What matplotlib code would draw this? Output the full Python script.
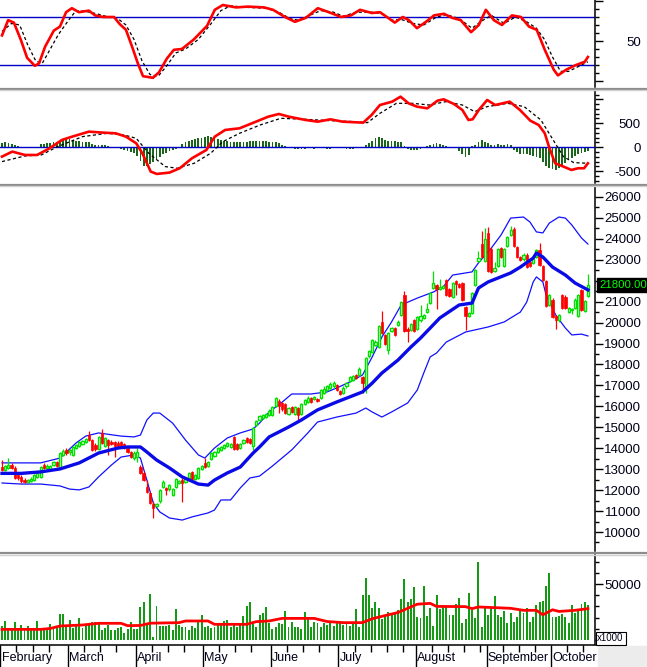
import numpy as np
import matplotlib
matplotlib.use("Agg")
import matplotlib.pyplot as plt
import matplotlib.transforms as mtrans
from matplotlib.lines import Line2D
from matplotlib.patches import Rectangle
from matplotlib.ticker import MultipleLocator

plt.rcParams['font.family'] = ['Liberation Sans', 'DejaVu Sans']

# ---- daily candles, Feb .. Oct (one row per month) ----
opens = [
    13100, 12950, 13050, 13200, 13050, 12700, 12650, 12500, 12400, 12450, 12500, 12650, 12650, 13200, 13050, 13000, 13200, 13350, 13050, 13700, 13900,
    13800, 13700, 14000, 14100, 14200, 14300, 14650, 14400, 14150, 13950, 14750, 14100, 14400, 14300, 14300, 14250, 14300, 14200, 14000, 13800, 13550,
    13600, 13100, 12800, 12150, 11850, 11350, 11250, 11500, 12150, 12100, 12050, 11750, 12150, 12350, 12500, 12400, 12600, 12850, 12550, 12600, 13000,
    13300, 13150, 13500, 13650, 13800, 13900, 14000, 14100, 14050, 14550, 14200, 14000, 14250, 14500, 14450, 14100, 15100, 15350, 15450, 15500, 15600,
    15600, 16000, 16250, 16150, 16100, 15650, 15950, 15650, 15900, 15650, 16100, 16200, 16400, 16350, 16350, 16400, 16650, 16800, 16900, 16950, 17000,
    16750, 16650, 16950, 17200, 17250, 17500, 17500, 17400, 16900, 18400, 18600, 18950, 18850, 20050, 19400, 18700, 19600, 19750, 19900, 20350, 21300, 19700, 19650, 20100,
    19700, 20100, 20200, 20500, 20950, 21650, 21800, 21600, 21650, 22050, 21600, 21200, 22000, 21850, 21900, 20750, 20300, 20450, 21800, 22950, 23750, 22950,
    24300, 23500, 22450, 22700, 23550, 22700, 23650, 24200, 24450, 23600, 23150, 23050, 23250, 22900, 22850, 23150, 23450, 22700, 22000, 20850, 21100,
    20300, 20100, 21300, 21200, 20500, 20600, 20700, 20300, 21550, 20550, 21250,
]
highs = [
    13450, 13200, 13550, 13300, 13150, 12750, 12700, 12600, 12550, 12650, 12750, 12850, 13150, 13300, 13250, 13200, 13400, 13400, 13800, 13950, 14000,
    13950, 14100, 14200, 14350, 14400, 14500, 14800, 14450, 14250, 14600, 14900, 14550, 14450, 14400, 14350, 14350, 14350, 14250, 14050, 13850, 13850,
    14000, 13200, 12850, 12500, 11900, 11500, 11400, 12050, 12500, 12150, 12300, 12100, 12600, 12500, 12600, 12600, 12850, 12900, 12750, 13100, 13200,
    13550, 13400, 13800, 13850, 14050, 14100, 14200, 14300, 14250, 14600, 14250, 14250, 14450, 14550, 14500, 15000, 15350, 15600, 15650, 15700, 15850,
    16000, 16450, 16350, 16200, 16150, 15950, 16000, 16000, 15950, 16150, 16350, 16500, 16450, 16500, 16400, 16850, 16950, 17000, 17150, 17200, 17050,
    16800, 16950, 17150, 17450, 17500, 17550, 17900, 17450, 18350, 18700, 19200, 19150, 19900, 20550, 19450, 19550, 19800, 19800, 20100, 21050, 21500, 19800, 20000, 20150,
    20300, 20850, 20400, 20950, 21450, 22450, 21850, 22100, 21800, 22100, 21650, 21950, 22050, 21900, 21950, 20800, 20500, 21450, 22550, 23400, 24350, 24500,
    24550, 23600, 22900, 23550, 23600, 23550, 24150, 24600, 24550, 23650, 23200, 23300, 23300, 22950, 23100, 23500, 23800, 22750, 22050, 21350, 21150,
    20350, 20400, 21350, 21300, 20750, 20700, 21150, 21350, 21600, 21100, 22300,
]
lows = [
    12900, 12900, 13000, 13000, 12550, 12500, 12350, 12350, 12350, 12400, 12450, 12600, 12600, 13000, 13000, 12950, 13150, 13100, 13000, 13650, 13700,
    13700, 13650, 13950, 14050, 14150, 14250, 14350, 13850, 13850, 13900, 14200, 14050, 13700, 14150, 13600, 14050, 14050, 13950, 13750, 13550, 13450,
    13350, 12750, 12450, 11850, 11350, 10650, 11200, 11400, 12100, 11750, 11950, 11700, 12100, 12300, 11450, 12350, 12550, 12500, 12500, 12550, 12950,
    13050, 13100, 13450, 13600, 13750, 13850, 13950, 14050, 14000, 13900, 13900, 13950, 14200, 14250, 14200, 13900, 15050, 15300, 15400, 15450, 15550,
    15550, 15950, 15700, 15800, 15650, 15600, 15700, 15600, 15250, 15600, 16050, 16150, 16150, 16300, 16200, 16350, 16600, 16750, 16850, 16900, 16750,
    16550, 16600, 16900, 17150, 17200, 17300, 17450, 16650, 16650, 18300, 18550, 18900, 18800, 19450, 18950, 18500, 19550, 19350, 19850, 20300, 19550, 19050, 19600, 19550,
    19650, 20050, 20150, 20450, 20900, 21600, 20650, 21550, 21600, 21250, 21200, 21150, 21300, 21650, 21050, 19650, 20250, 20400, 21750, 22900, 23100, 22900,
    22400, 22350, 22400, 22650, 23100, 22650, 23600, 24150, 23600, 23100, 22950, 22950, 22600, 22650, 22800, 23100, 22700, 22000, 20750, 20800, 20200,
    19700, 20050, 20650, 20650, 20450, 20400, 20650, 20250, 20550, 20500, 21200,
]
closes = [
    12950, 13150, 13200, 13050, 12600, 12600, 12450, 12400, 12500, 12550, 12700, 12800, 13100, 13050, 13150, 13150, 13350, 13150, 13750, 13850, 13750,
    13900, 14050, 14150, 14300, 14350, 14450, 14400, 13900, 13950, 14550, 14250, 14500, 14150, 14200, 14100, 14100, 14100, 14000, 13800, 13600, 13750,
    13800, 12800, 12500, 11900, 11400, 11150, 11350, 12000, 12400, 12000, 12250, 12050, 12550, 12450, 12350, 12550, 12800, 12550, 12700, 13050, 13150,
    13100, 13350, 13750, 13800, 14000, 14050, 14150, 14250, 14200, 13950, 13950, 14200, 14400, 14300, 14250, 14950, 15300, 15550, 15600, 15650, 15800,
    15950, 16400, 16000, 15850, 15700, 15900, 15750, 15950, 15600, 16100, 16300, 16400, 16200, 16450, 16250, 16800, 16850, 16950, 17050, 17100, 16800,
    16600, 16900, 17100, 17400, 17450, 17350, 17800, 17100, 18300, 18650, 19150, 19050, 19850, 19500, 19000, 19500, 19750, 19400, 20050, 21000, 19600, 19600, 19950, 19600,
    20250, 20300, 20350, 20650, 21400, 21900, 21600, 21700, 21750, 21300, 21250, 21900, 21850, 21700, 21100, 20300, 20450, 21400, 22500, 23100, 23150, 24000,
    22450, 22400, 22600, 23500, 23150, 23500, 24100, 24400, 23650, 23150, 23000, 23250, 22650, 22700, 23050, 23450, 22750, 22050, 20800, 21300, 20250,
    20100, 20350, 20700, 20700, 20700, 20650, 21100, 21300, 20600, 21050, 21800,
]
volumes = [
    12500, 17000, 9500, 9000, 16400, 10000, 13400, 9500, 12500, 10000, 9000, 17000, 11000, 10000, 11000, 14000, 12000, 10500, 23200, 23000, 12000,
    17900, 11000, 13000, 19300, 11000, 13000, 14500, 16500, 16500, 16500, 9000, 11000, 13000, 9000, 9000, 10500, 11500, 6000, 9500, 16000, 10000,
    9500, 29200, 34000, 13400, 41000, 3000, 30400, 12500, 12500, 12500, 13400, 9000, 27400, 13400, 11500, 12000, 9000, 12500, 10500, 18000, 22300,
    11500, 12500, 10500, 11500, 13400, 15000, 17000, 18000, 11500, 13400, 11500, 13400, 21700, 30500, 34200, 16400, 11500, 22300, 24400, 29200, 14900,
    9500, 11500, 14900, 14300, 25900, 11500, 16400, 11500, 11500, 9500, 25300, 18500, 11500, 16400, 14900, 11500, 14900, 13400, 16400, 12500, 15000,
    14900, 13400, 14900, 12500, 16400, 27400, 11500, 40200, 55000, 40200, 28300, 34200, 28300, 18500, 21400, 25300, 23800, 24400, 26800, 36300, 54200, 34200, 36300, 47000,
    20800, 19300, 48200, 21400, 28300, 12500, 40200, 27400, 30400, 29800, 22300, 22300, 32200, 37200, 14900, 18500, 41700, 26800, 19300, 69400, 11300, 28300,
    22300, 29800, 39300, 22300, 20200, 26200, 14900, 24400, 16400, 20200, 26200, 23800, 28300, 16400, 20200, 31300, 34200, 35100, 48200, 59500, 20200,
    20200, 21400, 23200, 20200, 15500, 31300, 24400, 26800, 32200, 33900, 31000,
]
macd_hist = [
    90, 100, 95, 70, 50, 20, 10, 5, 5, -5, 0, 10, 60, 70, 80, 90, 100, 110, 130,
    160, 180, 170, 150, 140, 130, 120, 110, 100, 60, 50, 40, 40, 45, 35, 10, -10, -20,
    -30, -50, -70, -90, -120, -180, -280, -380, -400, -340, -300, -250, -200, -150, -110, -80,
    -60, -40, -20, 60, 100, 130, 150, 170, 190, 200, 220, 230, 210, 200, 170, 150, 140, 130,
    120, 110, 120, 110, 115, 120, 130, 140, 135, 140, 130, 135, 120, 110, 100, 80, 50, 30,
    -10, -20, -30, -30, -40, -30, -20, -20, -30, -20, -10, -20, -30, -30, -20, -20, -10, -20, -30, -40, -30, -20, -10, -5,
    40, 80, 140, 190, 220, 190, 150, 140, 130, 140, 120, 100, 20, -40, -60, -50,
    -60, -40, -20, 20, 50, 70, 80, 60, 40, 20, -10, -20, -10, -80, -150, -200, -170, 20, 40,
    110, 150, 120, 80, 40, 50, 60, 40, 50, 60, 40, -60, -100, -130, -150, -140, -170, -190, -200,
    -230, -300, -380, -430, -460, -470, -440, -380, -320, -270, -220, -180, -150, -120, -100, -80,
]

# ---- indicator lines: (trading-day index, value) ----
sma_day = [0, 6, 12, 18, 24, 30, 36, 39, 43, 45, 48, 52, 56, 61, 64, 66, 70, 74, 78, 80, 83, 89, 93, 98,
           104, 108, 112, 115, 118, 123, 127, 130, 136, 142, 146, 148, 151, 158, 161, 165, 166, 168, 171, 175, 178, 182]
sma_val = [12800, 12800, 12870, 13010, 13300, 13770, 14010, 14060, 14060, 13820, 13440, 13060, 12630, 12290,
           12240, 12480, 12820, 13100, 13770, 14060, 14540, 15010, 15350, 15830, 16210, 16450, 16690, 17110,
           17590, 18210, 18830, 19260, 20220, 20840, 20930, 21650, 21940, 22370, 22650, 23080, 23320, 23130,
           22650, 22270, 21890, 21560]
bb_up_day = [0, 12, 18, 23, 26, 30, 37, 41, 43, 45, 47, 49, 53, 57, 61, 63, 66, 70, 74, 78, 80, 83, 87, 90,
             96, 101, 104, 108, 112, 115, 118, 121, 124, 129, 134, 137, 140, 146, 148, 152, 155, 158, 162,
             164, 166, 168, 170, 173, 175, 177, 180, 182]
bb_up_val = [13300, 13300, 13530, 14250, 14580, 14730, 14580, 14540, 14630, 15350, 15680, 15680, 15200,
             14390, 13680, 13530, 14010, 14490, 14730, 14920, 15200, 15730, 16200, 16590, 16590, 16690,
             16880, 17160, 17500, 18360, 19310, 20030, 20840, 21170, 21460, 21700, 22270, 22420, 22850,
             23560, 24180, 24990, 25040, 24800, 24330, 24280, 24750, 25040, 24990, 24660, 24040, 23750]
bb_lo_day = [0, 6, 12, 18, 21, 24, 27, 30, 34, 37, 41, 43, 45, 47, 49, 52, 56, 59, 64, 66, 68, 71, 74, 77,
             80, 84, 90, 95, 98, 104, 110, 113, 115, 118, 121, 126, 129, 131, 133, 135, 138, 144, 151, 156,
             158, 161, 163, 165, 166, 168, 169, 172, 175, 177, 180, 182]
bb_lo_val = [12340, 12290, 12290, 12200, 12050, 12010, 12150, 12630, 13200, 13580, 13680, 13530, 12480,
             11380, 10960, 10670, 10570, 10720, 10910, 11050, 11530, 11530, 12100, 12580, 12670, 13150,
             13920, 14730, 15250, 15490, 15680, 15920, 15730, 15490, 15730, 16160, 16780, 17590, 18360,
             18550, 19070, 19550, 19790, 20030, 20220, 20500, 20980, 21940, 22180, 21940, 21320, 20360,
             19740, 19410, 19450, 19360]

stk_day = [0, 1.9, 3.7, 5.9, 7.8, 10.2, 11.5, 13.4, 16.1, 18, 19.9, 21.7, 23.9, 27, 28.9, 31.4, 34.8, 36.6,
           38.5, 40.4, 42.2, 43.8, 46.9, 48.8, 51.2, 53.4, 55.9, 59.6, 63.7, 66.1, 68.6, 72.7, 76.4, 81.4,
           84.2, 87.9, 91, 94.4, 98.1, 102.2, 105.3, 108.4, 111.2, 114.9, 117.4, 119.9, 122, 124.5, 126.4,
           128.9, 131.7, 134.2, 137.3, 139.8, 142.5, 145.7, 148.1, 150.3, 152.8, 155.3, 158.4, 161.2, 163.7,
           166.1, 168.6, 171.4, 172.7, 175.2, 178.3, 181, 182]
stk_val = [57, 76, 73, 51, 29, 19, 22, 43, 63, 68, 86, 91, 86, 88, 82, 80, 80, 71, 64, 43, 22, 6, 4, 11,
           28, 39, 40, 52, 69, 89, 95, 92, 93, 92, 89, 80, 74, 79, 91, 85, 80, 82, 89, 85, 86, 79, 73, 80,
           76, 66, 74, 82, 84, 79, 76, 61, 70, 89, 76, 70, 82, 80, 68, 64, 39, 14, 7, 14, 20, 24, 30]
std_day = [0, 3, 5.5, 8, 10.5, 12.5, 15, 17.5, 20.5, 23, 26, 29.5, 33, 36, 38.5, 41, 43.5, 46, 48.5, 51,
           54, 57, 61, 65, 68, 71, 76, 82, 86, 89.5, 92, 95.5, 99, 103, 106, 110, 115, 118, 121, 124,
           127.5, 131, 135, 138, 142, 146, 149, 152, 156, 159.5, 163, 166, 168.5, 171, 173.5, 176, 179, 182]
std_val = [62, 72, 70, 45, 25, 22, 40, 58, 75, 88, 87, 84, 80, 78, 70, 52, 25, 8, 6, 18, 35, 40, 52, 72,
           88, 94, 92, 91, 86, 78, 76, 82, 88, 86, 81, 86, 86, 84, 76, 77, 72, 70, 80, 83, 78, 66, 75, 82,
           72, 80, 74, 66, 52, 30, 12, 12, 18, 24]

macd_day = [0, 3.2, 7.1, 10.9, 14.8, 18.6, 21.8, 27, 31.5, 35.3, 38.5, 41.7, 43.6, 46.2, 48.1, 52, 55.2,
            59, 63.5, 66.1, 69.3, 73.8, 78.9, 82.7, 86, 89.1, 94.3, 98.1, 102, 105.8, 112.2, 114.8, 117.4,
            121.2, 123.8, 126.3, 128.9, 132.1, 135.3, 137.2, 140.4, 143, 144.9, 146.2, 148.1, 150.7, 153.2,
            157.7, 160.9, 164.1, 166.7, 168.6, 169.9, 171.8, 174.4, 176.9, 178.9, 180.8, 182]
macd_val = [-194, -90, -160, -160, -20, 153, 222, 326, 305, 292, 222, 83, -125, -507, -555, -527, -437,
            -229, -55, 222, 361, 396, 534, 638, 694, 638, 569, 534, 583, 534, 513, 673, 881, 951, 1055,
            916, 847, 812, 972, 1000, 902, 777, 569, 583, 777, 986, 881, 951, 777, 555, 465, 292, 14, -333,
            -402, -472, -437, -437, -333]
sig_day = [0, 7.1, 12.2, 17.3, 25, 32.7, 37.9, 41.7, 45.6, 50.7, 54.5, 59.7, 64.8, 68.6, 73.8, 80.2, 86.6,
           94.3, 102, 109.7, 113.5, 117.4, 122.5, 127.6, 132.7, 137.9, 143, 146.8, 150.7, 157.1, 162.2,
           167.4, 171.2, 174.4, 177.6, 182]
sig_val = [-298, -180, -160, 14, 222, 292, 257, 187, -125, -402, -437, -333, -125, 118, 292, 465, 604, 583,
           555, 534, 513, 708, 916, 916, 881, 951, 881, 743, 847, 916, 847, 569, 153, -194, -319, -333]

vma_day = [0, 12, 15, 18, 25, 30, 37, 39, 43, 46, 55, 57, 64, 66, 76, 79, 83, 87, 97, 101, 106, 112, 115,
           120, 123, 126, 129, 133, 135, 144, 146, 148, 158, 162, 166, 168, 171, 173, 178, 182]
vma_val = [9500, 9500, 10300, 12500, 13400, 14900, 14900, 12800, 13000, 15000, 15500, 17000, 17000, 14000,
           14000, 16400, 17000, 19300, 19300, 16500, 15500, 15500, 19000, 22500, 24500, 28300, 32000, 32700,
           30000, 29800, 28000, 29500, 28300, 26500, 26500, 22500, 27000, 25500, 26500, 28000]

months = ['February', 'March', 'April', 'May', 'June', 'July', 'August', 'September', 'October']
month_start = [0, 21, 42, 63, 84, 105, 129, 151, 171]

O = np.array(opens, float); Hh = np.array(highs, float)
L = np.array(lows, float); C = np.array(closes, float)
n = len(C)
assert len(O) == n and len(Hh) == n and len(L) == n and len(volumes) == n and len(macd_hist) == n
x = np.arange(n)
xlim = (-0.62, 184.2)

W, H = 647, 667
fig = plt.figure(figsize=(W / 100, H / 100), dpi=100)


def panel(top, bottom):
    return fig.add_axes([0, 1 - bottom / H, 595 / W, (bottom - top) / H])


LAB = '#000018'


def right_axis(ax, ticks, labels, minor):
    for s in ['top', 'left', 'bottom']:
        ax.spines[s].set_visible(False)
    ax.spines['right'].set_linewidth(1.1)
    ax.yaxis.tick_right()
    ax.set_xticks([])
    ax.set_xlim(*xlim)
    ax.set_yticks(ticks, labels, ha='right', fontsize=9.5, color=LAB)
    ax.yaxis.set_minor_locator(MultipleLocator(minor))
    ax.tick_params(axis='y', which='major', length=6, width=1, pad=27)
    ax.tick_params(axis='y', which='minor', length=3, width=1)


# ---- stochastic ----
ax1 = panel(0, 87)
ax1.axhline(80, color='#0000c8', lw=1)
ax1.axhline(20, color='#0000c8', lw=1)
ax1.plot(std_day, std_val, color='black', lw=0.9, ls=(0, (2.5, 2)))
ax1.plot(stk_day, stk_val, color='#ff0000', lw=1.9)
ax1.set_ylim(-7.5, 101.25)
right_axis(ax1, [0, 50, 100], ['', '50', ''], 10)

# ---- MACD ----
ax2 = panel(91, 183)
ax2.bar(x, macd_hist, width=0.55, color='#1a661a', zorder=2)
ax2.axhline(0, color='#0000c8', lw=1, zorder=3)
ax2.plot(sig_day, sig_val, color='black', lw=0.9, ls=(0, (2.5, 2)), zorder=4)
ax2.plot(macd_day, macd_val, color='#ff0000', lw=1.9, zorder=5)
ax2.set_ylim(-744, 1173)
right_axis(ax2, [-500, 0, 500, 1000], ['-500', '0', '500', ''], 100)

# ---- price ----
ax3 = panel(187, 551)
ax3.plot(bb_up_day, bb_up_val, color='#1010ff', lw=0.9, zorder=2)
ax3.plot(bb_lo_day, bb_lo_val, color='#1010ff', lw=0.9, zorder=2)
ax3.plot(sma_day, sma_val, color='#0a0ae6', lw=2.4, zorder=5)
up = C >= O
lo = np.minimum(O, C)
hgt = np.maximum(np.abs(C - O), 40)
green, red = '#00e000', '#ff0000'
ax3.vlines(x[up], L[up], Hh[up], color=green, lw=0.9, zorder=3)
ax3.bar(x[up], hgt[up], bottom=lo[up], width=0.66, facecolor='white', edgecolor=green, lw=1.0, zorder=4)
ax3.vlines(x[~up], L[~up], Hh[~up], color=red, lw=0.9, zorder=3)
ax3.bar(x[~up], hgt[~up], bottom=lo[~up], width=0.72, facecolor=red, edgecolor=red, lw=0.5, zorder=4)
ax3.set_ylim(9093, 26474)
pt = list(range(10000, 26001, 1000))
# the last-price box covers the 22000 label, as on the original
right_axis(ax3, pt, ['' if v == 22000 else str(v) for v in pt], 500)
tr = mtrans.blended_transform_factory(ax3.transAxes, ax3.transData)
ax3.text(1.0075, C[-1], f'{C[-1]:.2f}', transform=tr, color='#00ff00', fontsize=8.2,
         ha='left', va='center', clip_on=False, zorder=10,
         bbox=dict(boxstyle='square,pad=0.2', fc='black', ec='black'))

# ---- volume ----
ax4 = panel(555, 645)
ax4.bar(x, volumes, width=0.6, color='#169a16', zorder=2)
ax4.plot(vma_day, vma_val, color='#ff0000', lw=2, zorder=3)
ax4.set_ylim(-4465, 75900)
right_axis(ax4, [50000], ['50000'], 10000)
ax4.text(1.004, 0.075, 'x1000', transform=ax4.transAxes, fontsize=7, color=LAB,
         ha='left', va='center', clip_on=False,
         bbox=dict(boxstyle='square,pad=0.18', fc='white', ec='black', lw=0.8))

# ---- month strip ----
ax5 = panel(645, 667)
ax5.set_xlim(*xlim)
ax5.set_ylim(0, 1)
for s in ['left', 'right', 'bottom']:
    ax5.spines[s].set_visible(False)
ax5.spines['top'].set_linewidth(1.1)
ax5.set_xticks([]); ax5.set_yticks([])
ends = month_start[1:] + [n]
for name, s, e in zip(months, month_start, ends):
    ax5.vlines(s - 0.5, 0, 1, color='black', lw=1)
    ax5.vlines(np.arange(s + 5, e - 1, 5) - 0.5, 0.7, 1, color='black', lw=1)
    ax5.text(s - 0.1, 0.42, name, fontsize=9, color=LAB, ha='left', va='center')

# panel separators and corner
for y0 in [88.5, 185, 553]:
    fig.add_artist(Line2D([0, 1], [1 - y0 / H] * 2, transform=fig.transFigure, color='#8c8c8c', lw=1.6))
    fig.add_artist(Line2D([0, 1], [1 - (y0 + 1.5) / H] * 2, transform=fig.transFigure, color='#cfcfcf', lw=1.0))
fig.add_artist(Rectangle((598 / W, 0), 49 / W, 21 / H, transform=fig.transFigure, color='#ececec', zorder=0))

fig.savefig('out.png', dpi=100)
